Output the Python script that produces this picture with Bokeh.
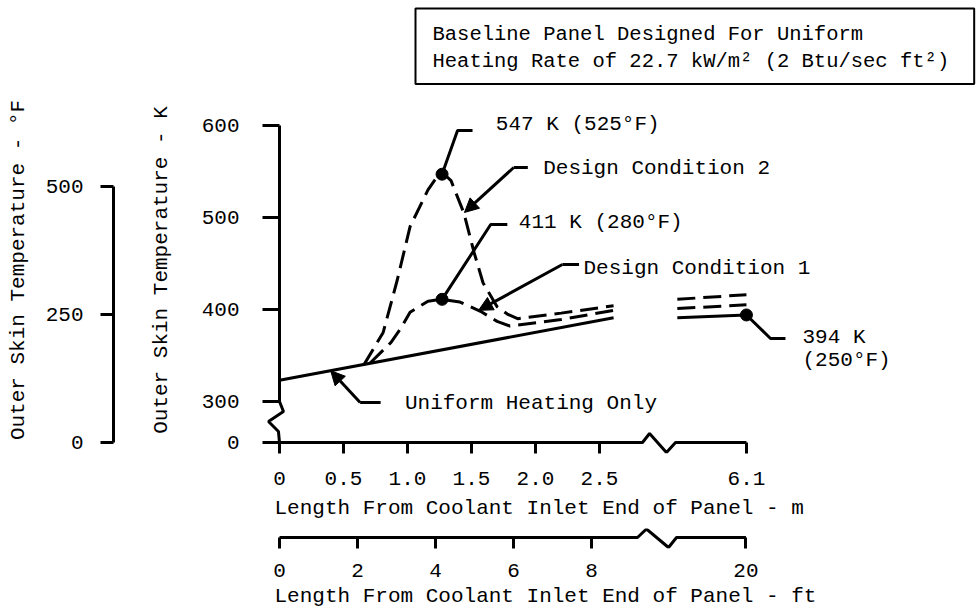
from bokeh.plotting import figure
from bokeh.models import (Range1d, FixedTicker, Arrow, NormalHead, Label, Title,
                          ColumnDataSource)
from bokeh.layouts import column, row
from bokeh.core.properties import value
from bokeh.embed import file_html
from bokeh.resources import INLINE

FONT = "Liberation Mono"
FS = "21px"

# ---- data: outer skin temperature (K) vs length from the coolant inlet end (m) ----
uniform_m = [0.0, 2.61]
uniform_K = [323, 391]

dc1_m = [0.71, 0.79, 0.87, 0.95, 1.02, 1.16, 1.27, 1.41, 1.57, 1.70, 1.80, 2.20, 2.61]
dc1_K = [342, 353, 364, 380, 397, 409, 411, 408, 398, 387, 382, 389, 399]

dc2_m = [0.66, 0.81, 0.92, 1.02, 1.16, 1.22, 1.27, 1.31, 1.34, 1.44, 1.52, 1.59, 1.70,
         1.78, 1.86, 2.20, 2.61]
dc2_K = [340, 375, 432, 490, 530, 542, 547, 544, 540, 505, 462, 429, 403,
         395, 390, 396, 404]

# far end of the panel (beyond the axis break)
far_m = [5.56, 6.1]
far_uniform_K = [391, 394]
far_dc1_K = [401, 405]
far_dc2_K = [411, 416]

# marked points: peak of each design condition and the outlet end
marked_m = [1.27, 1.27, 6.1]
marked_K = [547, 411, 394]
marked_F = [525, 280, 250]

# axis ticks
m_tick_values = [0, 0.5, 1.0, 1.5, 2.0, 2.5, 6.1]
m_tick_labels = ["0", "0.5", "1.0", "1.5", "2.0", "2.5", "6.1"]
ft_tick_values = [0, 2, 4, 6, 8, 20]
ft_tick_labels = ["0", "2", "4", "6", "8", "20"]
k_tick_values = [0, 300, 400, 500, 600]
k_tick_labels = ["0", "300", "400", "500", "600"]
f_tick_values = [0, 250, 500]
f_tick_labels = ["0", "250", "500"]

# ---- scale breaks ----
FT = 0.3048            # metres per foot
BREAK_AT = 3.0         # metres; anything beyond is drawn after the break
BREAK_SHIFT = 2.452    # metres removed by the horizontal break
K_ZERO = 255.372       # 0 degF in kelvin; the temperature axis is broken below 300 K
PX_PER_K = 0.92


def to_plot(m):
    return m if m < BREAK_AT else m - BREAK_SHIFT


def k_plot(k):
    return k if k >= 300 else K_ZERO


X_START, X_END = -0.109375, 5.46875
Y_START = K_ZERO - 11 / PX_PER_K
Y_END = K_ZERO + 356 / PX_PER_K


def style_axis(ax):
    ax.major_label_text_font = FONT
    ax.major_label_text_font_size = FS
    ax.major_label_text_color = "black"
    ax.axis_label_text_font = FONT
    ax.axis_label_text_font_size = FS
    ax.axis_label_text_font_style = "normal"
    ax.axis_label_text_color = "black"
    ax.major_tick_line_width = 3
    ax.major_tick_line_color = "black"
    ax.minor_tick_line_color = None
    ax.axis_line_width = 3
    ax.axis_line_color = "black"


def plain(fig):
    fig.xgrid.visible = False
    fig.ygrid.visible = False
    fig.outline_line_color = None
    fig.background_fill_color = "white"
    fig.border_fill_color = "white"


def axis_title(fig, text, standoff):
    fig.add_layout(Title(text=text, align="left", offset=9, standoff=standoff,
                         text_font=FONT, text_font_size=FS,
                         text_font_style="normal", text_color="black"), "below")


# ---- boxed note (its frame lines up with the plot frames: 265..979 px) ----
top = figure(width=979, height=86, x_range=Range1d(265, 979), y_range=Range1d(0, 86),
             output_backend="svg", toolbar_location=None, x_axis_location=None,
             y_axis_location=None, min_border_left=0, min_border_right=0,
             min_border_top=0, min_border_bottom=0)
plain(top)
top.add_layout(Label(
    x=415, y=78,
    text="Baseline Panel Designed For Uniform\nHeating Rate of 22.7 kW/m² (2 Btu/sec ft²)",
    text_font=FONT, text_font_size="20.5px", text_align="left", text_baseline="top",
    text_color="black", border_line_color="black", border_line_width=2,
    background_fill_color="white",
    padding=dict(left=17, right=25, top=14, bottom=11)))

# ---- Fahrenheit scale ----
left = figure(width=140, height=442, x_range=Range1d(0, 1),
              y_range=Range1d((Y_START - K_ZERO) * 1.8, (Y_END - K_ZERO) * 1.8),
              output_backend="svg", toolbar_location=None, x_axis_location=None,
              min_border_left=113, min_border_right=0, min_border_top=0,
              min_border_bottom=75)
plain(left)
fy = left.yaxis[0]
style_axis(fy)
fy.bounds = (0, 500)
fy.ticker = FixedTicker(ticks=f_tick_values)
fy.major_label_overrides = dict(zip(f_tick_values, f_tick_labels))
fy.major_tick_out = 13
fy.major_tick_in = 0
fy.major_label_standoff = 17
fy.axis_label = "Outer Skin Temperature - °F"
fy.axis_label_standoff = 13

# ---- main plot (kelvin / metres) ----
p = figure(width=839, height=442, x_range=Range1d(X_START, X_END),
           y_range=Range1d(Y_START, Y_END), output_backend="svg",
           toolbar_location=None, min_border_left=125, min_border_right=0,
           min_border_top=0, min_border_bottom=75)
plain(p)

ky = p.yaxis[0]
style_axis(ky)
k_pos = [k_plot(v) for v in k_tick_values]
ky.ticker = FixedTicker(ticks=k_pos)
ky.major_label_overrides = dict(zip(k_pos, k_tick_labels))
ky.axis_line_color = None
ky.major_tick_out = 3
ky.major_tick_in = 14
ky.major_label_standoff = 23
ky.axis_label = "Outer Skin Temperature - K"
ky.axis_label_standoff = 26

mx = p.xaxis[0]
style_axis(mx)
m_pos = [to_plot(v) for v in m_tick_values]
mx.ticker = FixedTicker(ticks=m_pos)
mx.major_label_overrides = dict(zip(m_pos, m_tick_labels))
mx.axis_line_color = None
mx.major_tick_out = 0
mx.major_tick_in = 11
mx.major_label_standoff = 18
axis_title(p, "Length From Coolant Inlet End of Panel - m", 14)

# temperature spine with its break between 300 K and the baseline
p.line([0, 0, 0.031, -0.086, -0.008, 0], [600, 300, 289.1, 278.2, 267.3, K_ZERO],
       line_width=3, color="black")

# metre axis line with its break
mxs = [0, 2.836, 2.891, 3.023, 3.094, to_plot(6.1)]
mys = [K_ZERO, K_ZERO, K_ZERO + 9 / PX_PER_K, K_ZERO - 10 / PX_PER_K, K_ZERO, K_ZERO]
p.line(mxs, mys, line_width=3, color="black")

# curves
p.line(uniform_m, uniform_K, line_width=3, color="black")
p.line(dc1_m, dc1_K, line_width=3, color="black", line_dash="18 8")
p.line(dc2_m, dc2_K, line_width=3, color="black", line_dash="18 8")
far_x = [to_plot(v) for v in far_m]
p.line(far_x, far_uniform_K, line_width=3, color="black")
p.line(far_x, far_dc1_K, line_width=3, color="black", line_dash="18 8")
p.line(far_x, far_dc2_K, line_width=3, color="black", line_dash="18 8")
p.scatter([to_plot(v) for v in marked_m], marked_K, size=12, color="black")

# leader lines
pk_x = [to_plot(v) for v in marked_m]
p.line([pk_x[0], 1.391, 1.508], [marked_K[0], 594.5, 594.5], line_width=3, color="black")
p.line([1.78, 1.65, pk_x[1]], [492.3, 492.3, marked_K[1]], line_width=3, color="black")
p.line([pk_x[2], 3.836, 3.953], [marked_K[2], 368.4, 368.4], line_width=3, color="black")
p.line([1.94, 1.83], [554.3, 554.3], line_width=3, color="black")
p.line([2.34, 2.21], [448.8, 448.8], line_width=3, color="black")
p.line([0.79, 0.63], [298.8, 298.8], line_width=3, color="black")


def arrow(x0, y0, x1, y1):
    p.add_layout(Arrow(end=NormalHead(size=14, fill_color="black", line_color="black",
                                      line_width=1),
                       x_start=x0, y_start=y0, x_end=x1, y_end=y1,
                       line_width=3, line_color="black"))


arrow(1.83, 554.3, 1.445, 505.4)
arrow(2.21, 448.8, 1.555, 399.0)
arrow(0.63, 298.8, 0.40, 333.4)

# annotation texts
notes = ColumnDataSource(dict(
    x=[1.69, 2.06, 1.87, 2.375, 0.98, 4.086, 4.086],
    y=[601.0, 553.2, 494.5, 444.5, 297.7, 369.5, 344.5],
    text=[f"{marked_K[0]} K ({marked_F[0]}°F)", "Design Condition 2",
          f"{marked_K[1]} K ({marked_F[1]}°F)", "Design Condition 1",
          "Uniform Heating Only", f"{marked_K[2]} K", f"({marked_F[2]}°F)"],
))
p.text("x", "y", text="text", source=notes, text_font=value(FONT),
       text_font_size=value(FS), text_align="left", text_baseline="middle",
       text_color="black")

# ---- foot scale ----
q = figure(width=979, height=85, x_range=Range1d(X_START / FT, X_END / FT),
           y_range=Range1d(0, 20), output_backend="svg", toolbar_location=None,
           y_axis_location=None, min_border_left=265, min_border_right=0,
           min_border_top=0, min_border_bottom=65)
plain(q)
fx = q.xaxis[0]
style_axis(fx)
ft_pos = [to_plot(v * FT) / FT for v in ft_tick_values]
fx.ticker = FixedTicker(ticks=ft_pos)
fx.major_label_overrides = dict(zip(ft_pos, ft_tick_labels))
fx.axis_line_color = None
fx.major_tick_out = 0
fx.major_tick_in = 11
fx.major_label_standoff = 15
axis_title(q, "Length From Coolant Inlet End of Panel - ft", 6)

fxs = [0, 9.176, 9.407, 9.971, 10.176, to_plot(20 * FT) / FT]
fys = [11, 11, 19.5, 1, 11, 11]
q.line(fxs, fys, line_width=3, color="black")

layout = column(top, row(left, p, spacing=0), q, spacing=0)
open("out.html", "w").write(file_html(layout, INLINE))
